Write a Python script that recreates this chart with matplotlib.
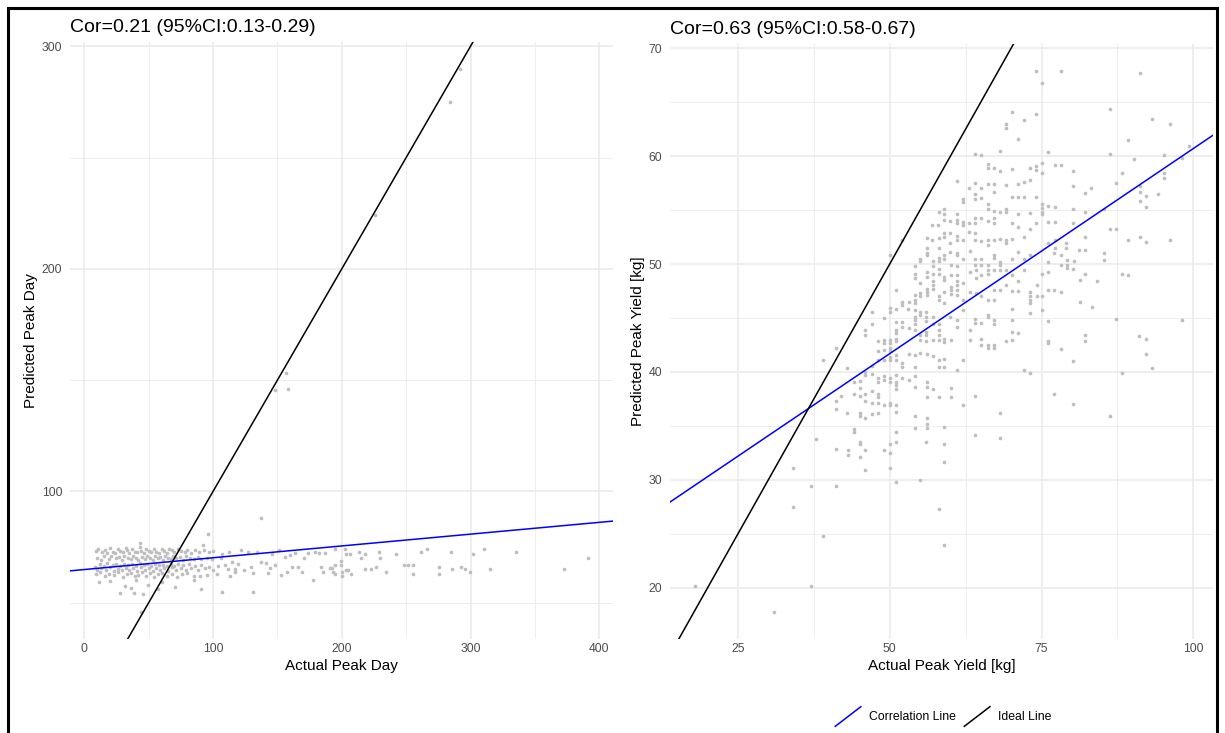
import matplotlib
matplotlib.use("Agg")
import matplotlib.pyplot as plt
from matplotlib.lines import Line2D
from matplotlib.patches import Rectangle
from matplotlib.legend_handler import HandlerBase
from matplotlib.ticker import MultipleLocator

# ---- peak day: (actual, predicted) ----
day_band_top = [(9, 73.1), (11, 74.0), (14, 72.6), (16, 73.8), (18, 72.2), (20, 74.4), (22, 73.0), (24, 72.4),
                (26, 74.1), (28, 73.3), (30, 72.8), (32, 74.6), (33, 73.5), (35, 72.5), (37, 74.2), (39, 73.0),
                (41, 72.7), (43, 74.8), (44, 73.4), (46, 72.3), (48, 74.0), (50, 73.2), (52, 72.6), (54, 74.3),
                (56, 73.0), (58, 72.4), (60, 73.9), (62, 73.3), (64, 72.5), (66, 74.1), (68, 73.6), (70, 72.8),
                (73, 74.0), (75, 73.1), (78, 72.6), (80, 73.8), (83, 72.4), (86, 73.5), (89, 72.9), (93, 73.6),
                (97, 72.7), (100, 73.2), (43, 77.0), (92.3, 75.9), (96.2, 80.9)]
day_band_mid = [(10, 70.2), (13, 69.3), (15, 70.8), (19, 69.7), (21, 71.0), (25, 69.9), (27, 70.6), (29, 69.2),
                (31, 70.9), (34, 70.0), (36, 69.5), (38, 71.2), (40, 70.3), (42, 69.0), (45, 70.7), (47, 69.8),
                (49, 71.1), (51, 70.0), (53, 69.4), (55, 70.9), (57, 69.9), (59, 70.5), (61, 69.1), (63, 71.0),
                (65, 70.2), (67, 69.6), (69, 70.8), (71, 69.9), (74, 70.4), (77, 69.3), (79, 71.0), (82, 70.1),
                (85, 69.5), (88, 70.7), (91, 69.8), (95, 70.3), (99, 69.6)]
day_band_low = [(8, 66.2), (10, 64.8), (12, 67.3), (13, 65.6), (15, 66.7), (17, 64.5), (18, 67.8), (20, 65.9),
                (22, 66.8), (23, 64.3), (25, 67.4), (26, 65.3), (28, 66.4), (29, 64.9), (31, 67.6), (32, 65.8),
                (34, 66.9), (35, 64.6), (37, 67.2), (38, 65.5), (40, 66.5), (41, 64.2), (43, 67.7), (44, 65.9),
                (46, 66.8), (47, 64.8), (49, 67.3), (50, 65.6), (52, 66.4), (53, 64.4), (55, 67.5), (56, 65.7),
                (58, 66.9), (59, 64.7), (61, 67.1), (62, 65.4), (64, 66.3), (65, 64.1), (67, 67.6), (68, 65.9),
                (70, 66.6), (71, 64.9), (73, 67.2), (75, 65.5), (77, 66.8), (79, 64.6), (81, 67.4), (83, 65.8),
                (86, 66.5), (88, 64.9), (91, 67.0), (94, 65.6), (97, 66.2), (100, 64.8),
                (9, 62.8), (12, 63.6), (16, 61.9), (19, 63.1), (23, 62.4), (26, 63.8), (30, 61.6), (33, 62.9),
                (36, 63.5), (39, 61.8), (42, 62.6), (45, 63.7), (48, 62.0), (51, 63.2), (54, 61.5), (57, 62.7),
                (60, 63.4), (64, 62.1), (68, 63.0), (72, 61.7), (76, 62.8), (80, 63.5), (85, 62.2), (90, 61.9),
                (95, 62.6)]
day_outliers_low = [(11.3, 59.3), (27.4, 54.2), (31.8, 57.4), (36.5, 56.5), (38.6, 54.5), (43.7, 46.0),
                    (45.6, 53.9), (49.4, 57.9), (57.3, 56.0), (70.2, 57.2), (91.0, 56.0), (107.1, 54.9),
                    (131.2, 54.9), (20, 59.8), (60, 59.5), (85, 60.2), (40, 60.4)]
day_mid_range = [(107.1, 71.8), (109.2, 67.0), (111.8, 65.2), (113.1, 61.8), (114.4, 68.2), (117.0, 65.2),
                 (117.0, 64.0), (121.4, 73.7), (127.3, 72.9), (129.4, 66.2), (131.2, 63.3), (133.8, 72.9),
                 (137.2, 68.5), (137.2, 88.1), (140.8, 67.7), (142.4, 63.3), (144.2, 65.5), (151.2, 73.7),
                 (155.9, 70.7), (157.2, 64.0), (159.8, 71.5), (163.7, 72.2), (166.3, 66.2), (168.9, 64.0),
                 (174.1, 72.5), (177.9, 60.3), (179.2, 72.9), (182.4, 72.2), (183.9, 66.2), (185.7, 64.0),
                 (187.0, 72.2), (190.9, 65.5), (193.5, 64.0), (104, 66.5), (103, 63.0), (106, 70.0),
                 (112, 72.8), (119, 67.5), (124, 64.6), (146, 72.0), (148, 66.8), (153, 62.5), (161, 66.0),
                 (171, 70.0)]
day_late = [(194.8, 74.0), (202.1, 74.0), (202.9, 71.9), (206.3, 71.9), (199.0, 68.9), (199.0, 66.9),
            (194.8, 66.9), (192.5, 65.4), (194.8, 62.9), (200.3, 63.9), (200.3, 62.0), (203.6, 64.7),
            (204.7, 64.7), (207.3, 62.9), (213.0, 72.9), (215.1, 69.9), (217.7, 71.9), (217.7, 65.0),
            (222.9, 65.0), (226.8, 66.2), (228.8, 72.9), (229.6, 69.9), (234.0, 63.9), (241.8, 71.9),
            (248.3, 66.9), (251.6, 66.9), (255.5, 66.9), (255.5, 62.9), (261.8, 72.9), (266.5, 74.0),
            (275.5, 66.2), (275.5, 62.9), (284.6, 72.9), (285.4, 65.0), (292.4, 66.2), (295.6, 65.0),
            (299.7, 63.9), (301.8, 71.9), (310.6, 74.0), (314.8, 65.0), (335.2, 72.9), (372.4, 65.0),
            (391.1, 69.9)]
day_high = [(148, 145.4), (157, 153.3), (158, 146.1), (225.5, 224.0), (284, 274.9), (291.8, 289.8)]

# ---- peak yield: (actual, predicted) ----
yield_upper = [(74.1, 67.9), (78.2, 67.9), (75.1, 66.8), (91.2, 67.7), (70.1, 64.1), (74.1, 63.9), (69.1, 63.0),
               (69.1, 62.6), (72.1, 63.3), (71.1, 61.6), (86.2, 64.4), (93.2, 63.4), (96.2, 63.0), (89.2, 61.5),
               (68.2, 60.5), (76.1, 60.4), (86.2, 60.2), (90.2, 59.7), (95.2, 60.1), (99.2, 60.9), (98.2, 59.8),
               (64.0, 60.2), (65.0, 60.1), (66.1, 59.3), (67.1, 58.9), (66.1, 58.9), (68.2, 58.6), (70.1, 58.8),
               (73.1, 58.9), (74.1, 59.1), (74.1, 58.7), (75.1, 59.4), (75.1, 58.4), (77.2, 59.2), (78.2, 59.2),
               (80.2, 58.6), (88.2, 58.4), (95.2, 58.4), (95.2, 58.0), (61.0, 57.7), (64.0, 57.5), (65.0, 57.0),
               (67.1, 57.4), (66.1, 57.4), (69.1, 57.3), (71.1, 57.4), (72.1, 57.6), (73.1, 57.8), (80.2, 57.2),
               (82.2, 56.6), (83.2, 57.0), (87.2, 57.5), (91.2, 57.2), (91.2, 56.7), (92.2, 56.3), (91.2, 55.8),
               (92.2, 55.3), (94.2, 56.5), (63.0, 57.0), (64.0, 56.5), (64.0, 56.0), (65.0, 56.1), (62.1, 56.0),
               (62.1, 55.7), (66.1, 55.6), (66.1, 55.1), (67.1, 56.7), (67.1, 54.9), (68.2, 54.8), (70.1, 56.2),
               (71.1, 56.2), (72.1, 56.2), (74.1, 56.2), (69.1, 55.1), (69.1, 54.8), (71.1, 54.6), (73.1, 54.7),
               (75.1, 55.6), (75.1, 55.2), (75.1, 54.8), (76.1, 55.4), (77.2, 55.3), (76.1, 53.9), (77.2, 53.9),
               (80.2, 55.1), (82.2, 54.8), (85.2, 55.1), (80.2, 53.8), (61.0, 54.6), (61.0, 54.1), (61.0, 53.8),
               (60.0, 54.0), (59.0, 54.6), (59.0, 54.1), (62.1, 53.9), (62.1, 53.6), (63.0, 53.8), (64.0, 54.3),
               (64.0, 53.8), (65.0, 54.3), (66.1, 54.0), (67.1, 54.3), (67.1, 53.8), (70.1, 53.8), (71.1, 53.4),
               (73.1, 53.2), (74.1, 53.8), (75.1, 54.6), (86.2, 53.2), (87.2, 53.2), (89.2, 52.2), (91.2, 52.5),
               (92.2, 52.0), (96.2, 52.2), (59.0, 52.9), (59.0, 52.5), (60.0, 52.9), (60.0, 51.9), (61.0, 52.6),
               (61.0, 52.2), (62.1, 52.2), (63.0, 53.0), (64.0, 52.9), (64.0, 52.2), (65.0, 52.1), (66.1, 52.2),
               (66.1, 51.8), (67.1, 52.2), (68.2, 52.3), (69.1, 52.2), (69.1, 51.9), (70.1, 52.3), (72.1, 52.5),
               (76.1, 51.9), (77.2, 52.2), (77.2, 51.5), (79.1, 51.9), (79.1, 51.5), (81.2, 51.3), (82.2, 51.3),
               (82.2, 52.5), (58.1, 54.8), (58.9, 55.1), (56.9, 53.6), (57.9, 53.6), (56.1, 52.4), (56.9, 52.2),
               (58.1, 52.4), (52.0, 52.2), (56.1, 51.5), (58.1, 51.5)]
yield_core = [(50.0, 50.8), (54.1, 49.8), (55.0, 50.5), (55.0, 50.3), (56.1, 51.0), (56.1, 50.8), (57.1, 50.3),
              (57.1, 49.8), (58.1, 50.6), (58.1, 50.3), (59.0, 50.8), (59.0, 50.5), (60.0, 51.1), (60.1, 49.9),
              (61.1, 51.0), (61.1, 50.8), (62.1, 50.5), (63.2, 51.2), (64.1, 50.5), (64.1, 49.9), (65.1, 50.5),
              (65.1, 49.9), (66.1, 49.9), (67.1, 50.8), (67.1, 50.6), (68.1, 50.2), (68.1, 49.9), (70.1, 50.5),
              (71.2, 51.1), (72.1, 50.5), (73.1, 50.8), (76.1, 50.2), (77.1, 51.0), (78.2, 50.8), (79.2, 50.4),
              (79.2, 49.9), (80.3, 50.3), (85.2, 51.0), (85.2, 50.4),
              (54.1, 49.1), (54.1, 48.7), (55.0, 48.2), (56.1, 49.3), (56.1, 48.8), (57.1, 49.1), (57.1, 48.4),
              (58.1, 49.5), (58.1, 49.1), (59.0, 48.8), (59.0, 48.5), (60.1, 49.0), (61.1, 49.8), (61.1, 49.0),
              (61.1, 48.4), (62.1, 48.2), (63.2, 49.3), (64.2, 49.4), (64.2, 48.7), (65.1, 49.0), (66.1, 49.4),
              (66.1, 49.1), (67.1, 49.4), (68.1, 49.4), (69.2, 49.4), (70.1, 49.0), (71.2, 48.4), (72.1, 49.4),
              (74.2, 48.1), (75.1, 49.1), (76.1, 49.3), (78.2, 49.9), (79.2, 49.6), (80.2, 49.5), (81.3, 48.5),
              (82.2, 49.1), (84.2, 48.4), (88.2, 49.1), (89.3, 49.0),
              (51.1, 47.6), (52.0, 46.5), (53.1, 46.5), (54.1, 47.1), (54.1, 46.7), (54.1, 46.4), (55.0, 47.3),
              (55.0, 47.0), (56.1, 47.7), (56.1, 47.4), (56.1, 47.1), (57.1, 48.1), (57.1, 47.7), (58.1, 47.0),
              (58.1, 46.7), (59.0, 47.4), (59.0, 46.4), (60.1, 47.9), (60.1, 47.6), (60.1, 47.2), (61.1, 48.1),
              (61.1, 47.6), (61.1, 47.1), (62.1, 46.7), (63.2, 47.4), (64.2, 47.3), (65.1, 47.0), (66.1, 46.7),
              (67.1, 47.6), (67.1, 46.7), (68.1, 47.6), (69.2, 48.1), (70.1, 47.5), (71.2, 47.5), (73.1, 47.4),
              (73.1, 47.0), (73.1, 46.7), (73.1, 46.4), (74.2, 47.0), (75.1, 47.0), (76.1, 47.6), (77.1, 47.6),
              (78.2, 47.4), (81.3, 46.5), (83.3, 46.0), (73.1, 45.5), (75.1, 45.7)]
yield_lower = [(47.1, 45.6), (49.1, 45.0), (50.1, 45.9), (50.1, 45.6), (51.1, 45.8), (52.0, 46.2), (53.0, 45.8),
               (54.1, 45.7), (54.1, 45.1), (54.1, 44.8), (54.1, 44.4), (55.0, 45.6), (55.0, 45.3), (56.0, 45.6),
               (56.0, 45.1), (56.0, 44.7), (57.1, 45.1), (57.1, 44.4), (58.1, 44.4), (58.1, 43.9), (58.1, 43.4),
               (59.0, 43.1), (59.0, 42.8), (60.0, 45.1), (61.1, 44.2), (62.1, 45.7), (63.2, 43.9), (64.1, 44.9),
               (64.1, 44.5), (65.1, 44.5), (66.1, 45.3), (66.1, 45.1), (67.1, 44.8), (67.1, 44.4), (70.1, 45.8),
               (70.1, 44.8), (70.1, 43.7), (71.2, 43.6), (76.1, 44.7), (87.2, 44.9), (98.2, 44.8),
               (46.0, 43.9), (46.0, 43.4), (47.1, 44.4), (48.1, 42.9), (49.1, 43.0), (49.1, 42.7), (50.1, 43.0),
               (50.1, 42.7), (50.1, 42.2), (51.1, 44.6), (51.1, 43.9), (51.1, 43.6), (51.1, 43.1), (51.1, 42.9),
               (52.0, 44.6), (52.0, 44.2), (53.1, 44.1), (54.1, 43.9), (55.0, 43.4), (55.0, 43.0), (56.0, 43.7),
               (56.0, 43.4), (56.0, 42.9), (57.1, 43.0), (58.1, 43.0), (60.1, 43.0), (61.1, 44.8), (63.2, 43.0),
               (65.1, 43.1), (65.1, 42.5), (66.1, 42.5), (66.1, 42.2), (67.1, 42.5), (67.1, 42.2), (69.2, 42.9),
               (70.1, 43.0), (76.1, 42.9), (76.1, 42.7), (78.2, 42.1), (82.2, 43.4), (82.2, 42.9), (91.1, 43.3),
               (92.2, 43.1), (92.2, 41.7), (93.2, 40.4), (88.2, 39.9), (86.2, 35.9), (80.2, 37.0), (77.1, 38.0),
               (80.2, 41.0), (73.1, 39.9), (72.1, 40.2),
               (41.1, 42.2), (39.0, 41.1), (43.0, 40.4), (44.1, 39.1), (45.1, 39.2), (46.0, 40.0), (46.0, 39.7),
               (47.1, 40.6), (47.1, 39.8), (48.1, 41.9), (48.1, 41.1), (48.1, 39.4), (48.1, 39.1), (49.1, 42.0),
               (49.1, 41.1), (49.1, 39.6), (49.1, 39.3), (50.1, 41.9), (50.1, 41.4), (50.1, 41.1), (50.1, 39.4),
               (50.1, 39.1), (51.1, 41.6), (51.1, 41.1), (51.1, 39.7), (52.0, 40.8), (52.0, 40.5), (53.1, 41.7),
               (53.1, 39.3), (54.1, 41.6), (54.1, 40.5), (54.1, 39.6), (55.0, 41.8), (56.1, 41.7), (57.1, 41.5),
               (58.1, 41.1), (58.1, 40.5), (59.0, 41.2), (59.0, 40.5), (61.1, 40.2), (62.1, 41.1), (51.1, 39.1),
               (52.0, 39.4)]
yield_bottom = [(44.1, 38.0), (45.1, 37.8), (45.1, 38.5), (41.1, 37.3), (41.1, 36.6), (42.0, 37.8), (43.0, 36.2),
                (45.1, 36.2), (45.1, 35.9), (46.0, 38.0), (46.0, 37.3), (46.0, 35.7), (47.1, 38.2), (47.1, 37.1),
                (47.1, 36.1), (48.1, 38.0), (48.1, 37.7), (48.1, 37.1), (48.1, 36.2), (49.1, 36.9), (50.1, 37.1),
                (50.1, 36.9), (51.1, 38.8), (51.1, 38.4), (51.1, 36.9), (51.1, 36.3), (54.1, 38.6), (54.1, 35.9),
                (54.1, 34.8), (56.1, 39.1), (56.1, 38.6), (56.1, 37.7), (57.1, 38.4), (58.1, 37.7), (60.1, 38.5),
                (60.1, 37.7), (62.1, 36.9), (64.1, 37.8), (68.1, 36.2), (56.1, 35.7), (56.1, 35.2), (56.1, 34.8),
                (59.0, 34.9), (64.1, 34.2), (68.1, 33.9), (44.1, 34.7), (44.1, 34.4),
                (37.9, 33.8), (41.1, 32.9), (43.1, 32.8), (43.1, 32.3), (45.1, 33.5), (45.1, 33.3), (45.1, 32.1),
                (46.0, 32.8), (49.1, 32.8), (50.1, 33.3), (50.1, 32.5), (51.1, 34.4), (51.1, 33.5), (56.0, 33.5),
                (59.0, 33.3), (59.0, 31.7), (46.0, 30.9), (50.1, 31.1), (51.1, 29.8), (55.0, 30.0), (58.1, 27.3),
                (59.0, 24.0), (37.1, 29.4), (41.1, 29.4), (39.0, 24.8),
                (17.9, 20.2), (30.9, 17.8), (37.0, 20.2), (34.0, 31.1), (34.0, 27.5)]

# fitted correlation lines (intercept, slope) and the ideal y = x line
day_fit = (64.9, 0.053)
yield_fit = (22.7, 0.38)
ideal = (0.0, 1.0)

day_title = "Cor=0.21 (95%CI:0.13-0.29)"
yield_title = "Cor=0.63 (95%CI:0.58-0.67)"


class HandlerDiag(HandlerBase):
    # ggplot-style abline key: a diagonal stroke
    def create_artists(self, legend, orig_handle, xdescent, ydescent, width, height, fontsize, trans):
        line = Line2D([-xdescent, -xdescent + width], [-ydescent, -ydescent + height],
                      color=orig_handle.get_color(), lw=orig_handle.get_linewidth(), transform=trans)
        return [line]


def style_axes(ax, xmaj, xmin, ymaj, ymin):
    ax.xaxis.set_major_locator(MultipleLocator(xmaj))
    ax.xaxis.set_minor_locator(MultipleLocator(xmin))
    ax.yaxis.set_major_locator(MultipleLocator(ymaj))
    ax.yaxis.set_minor_locator(MultipleLocator(ymin))
    ax.grid(which='major', color='#ebebeb', lw=1.2)
    ax.grid(which='minor', color='#ebebeb', lw=0.6)
    ax.set_axisbelow(True)
    for s in ax.spines.values():
        s.set_visible(False)
    ax.tick_params(which='both', length=0, labelsize=8.8, labelcolor='#4d4d4d')
    ax.tick_params(axis='y', pad=5.5)
    ax.tick_params(axis='x', pad=3)


def panel(ax, groups, fit, title, xlabel, ylabel):
    xs, ys = [], []
    for g in groups:
        for a, p in g:
            xs.append(a)
            ys.append(p)
    ax.scatter(xs, ys, s=7, color='#bebebe', linewidths=0, zorder=2)
    ax.margins(0.05)
    ax.autoscale_view()
    xlim, ylim = ax.get_xlim(), ax.get_ylim()
    ax.axline((0, fit[0]), slope=fit[1], color='blue', lw=1.1, zorder=3)
    ax.axline((0, ideal[0]), slope=ideal[1], color='black', lw=1.1, zorder=3)
    ax.set_xlim(xlim)
    ax.set_ylim(ylim)
    ax.set_title(title, loc='left', fontsize=14, pad=7)
    ax.set_xlabel(xlabel, fontsize=11, labelpad=3)
    ax.set_ylabel(ylabel, fontsize=11, labelpad=3)


plt.rcParams['font.family'] = ['Liberation Sans', 'DejaVu Sans']

fig = plt.figure(figsize=(12.25, 7.33), dpi=100)
ax1 = fig.add_axes([0.0571, 0.1286, 0.4429, 0.8144])
ax2 = fig.add_axes([0.547, 0.1286, 0.4434, 0.8118])

panel(ax1, [day_band_top, day_band_mid, day_band_low, day_outliers_low, day_mid_range, day_late, day_high],
      day_fit, day_title, "Actual Peak Day", "Predicted Peak Day")
style_axes(ax1, 100, 50, 100, 50)

panel(ax2, [yield_upper, yield_core, yield_lower, yield_bottom],
      yield_fit, yield_title, "Actual Peak Yield [kg]", "Predicted Peak Yield [kg]")
style_axes(ax2, 25, 12.5, 10, 5)

handles = [Line2D([], [], color='blue', lw=1.1), Line2D([], [], color='black', lw=1.1)]
fig.legend(handles, ["Correlation Line", "Ideal Line"], handler_map={Line2D: HandlerDiag()},
           loc='center', bbox_to_anchor=(0.77, 0.0225), ncol=2, frameon=False, fontsize=8.8,
           handlelength=2.1, handleheight=2.1, handletextpad=0.65, columnspacing=0.7)

fig.patches.append(Rectangle((0.0065, -0.02), 0.987, 1.009, transform=fig.transFigure,
                             fill=False, edgecolor='black', lw=2.2))

fig.savefig("out.png", dpi=100)
